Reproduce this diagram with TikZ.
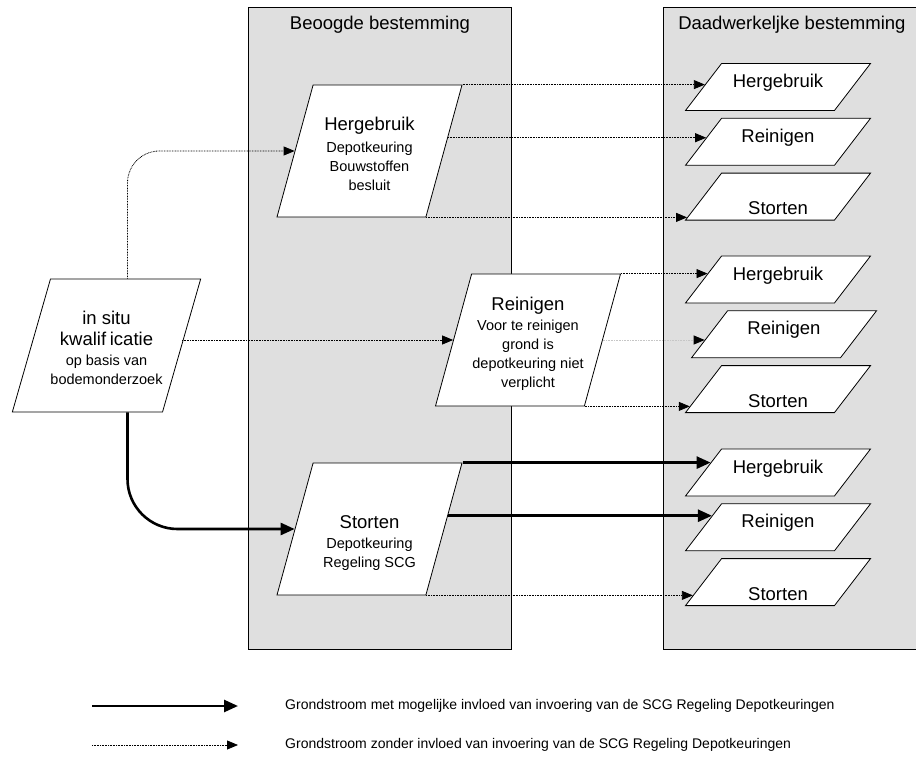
\documentclass[tikz,border=0pt]{standalone}
\usepackage{fontspec}
\setmainfont{Liberation Sans}
\usetikzlibrary{arrows.meta,positioning,calc,shapes.geometric}

\newcommand{\bigfont}{\fontsize{18.5}{22}\selectfont}
\newcommand{\smallfont}{\fontsize{14.5}{19}\selectfont}
\newcommand{\keyfont}{\fontsize{14}{17}\selectfont}

\begin{document}
\begin{tikzpicture}[x=1pt,y=-1pt,
  lane/.style={draw,fill=gray!25,line width=0.8pt,anchor=north west,inner sep=0pt},
  head/.style={font=\bigfont},
  choice/.style={trapezium,trapezium left angle=74.7,trapezium right angle=105.3,trapezium stretches body,draw,fill=white,line width=0.8pt,minimum width=185pt,minimum height=132pt,font=\smallfont,inner xsep=0pt,inner ysep=2pt},
  dest/.style={trapezium,trapezium left angle=52.5,trapezium right angle=127.5,trapezium stretches body,draw,fill=white,line width=0.8pt,minimum width=185pt,minimum height=47pt,font=\bigfont,inner sep=0pt,text height=24pt,text depth=23pt},
  destlow/.style={dest,text height=41.5pt,text depth=5.5pt},
  keytext/.style={font=\keyfont,inner sep=0pt,anchor=west},
  heavy/.style={line width=2.6pt,-{Triangle[length=14pt,width=12pt]}},
  light/.style={line width=0.8pt,dash pattern=on 0.8pt off 0.8pt,-{Triangle[length=11pt,width=9pt]}},
  faint/.style={light,gray!45,-{Triangle[length=11pt,width=9pt,color=black]}},
  hit/.style={to path={let \p1=(\tikztostart),\p2=(\tikztotarget.bottom left corner),\p3=(\tikztotarget.top left corner) in -- ({\x2+(\y1-\y2)*(\x3-\x2)/(\y3-\y2)},\y1)}}]
\useasboundingbox (0,0) rectangle (916,762);
% lanes
\node[lane,minimum width=263pt,minimum height=642pt] (plan) at (248,7) {};
\node[lane,minimum width=257pt,minimum height=642pt] (real) at (663,7) {};
\node[head] (planhead) at ([yshift=-18pt]plan.north) {Beoogde bestemming};
\node[head] (realhead) at ([yshift=-18pt]real.north) {Daadwerkeljke bestemming};
% source and intended destination
\node[choice,trapezium left angle=74,trapezium right angle=106,minimum height=133pt,text height=43.6pt,text depth=85.4pt] (insitu) at (106.5,345.5)
  {\begin{tabular}[t]{@{}c@{}}\bigfont in situ\\[2pt]\bigfont kwalif\hspace{.2em}icatie\\[1pt]op basis van\\bodemonderzoek\end{tabular}};
\node[choice,text height=43.6pt,text depth=84.4pt] (planreuse) at (369.5,151)
  {\begin{tabular}[t]{@{}c@{}}\bigfont Hergebruik\\[3pt]Depotkeuring\\Bouwstoffen\\besluit\end{tabular}};
\node[choice,text height=34.6pt,text depth=93.4pt] (planclean) at (528,340)
  {\begin{tabular}[t]{@{}c@{}}\bigfont Reinigen\\[1pt]Voor te reinigen\\grond is\\depotkeuring niet\\verplicht\end{tabular}};
\node[choice,text height=63.6pt,text depth=64.4pt] (plandump) at (369.5,529)
  {\begin{tabular}[t]{@{}c@{}}\bigfont Storten\\[1pt]Depotkeuring\\Regeling SCG\end{tabular}};
% actual destination
\node[dest] (reuse1) at (778,87) {Hergebruik};
\node[dest,below=7pt of reuse1] (clean1) {Reinigen};
\node[destlow,below=7pt of clean1] (dump1) {Storten};
\node[dest] (reuse2) at (778,279.5) {Hergebruik};
\node[dest,below=7pt of reuse2,xshift=6pt] (clean2) {Reinigen};
\node[destlow,below=7pt of clean2,xshift=-6pt] (dump2) {Storten};
\node[dest] (reuse3) at (778,472.5) {Hergebruik};
\node[dest,below=7pt of reuse3] (clean3) {Reinigen};
\node[destlow,below=7pt of clean3] (dump3) {Storten};
% flows
\coordinate (riser) at ([xshift=21pt]insitu.center);
\coordinate (reusemid) at ($(planreuse.bottom right corner)!0.6!(planreuse.top right corner)$);
\coordinate (dumpmid) at ($(plandump.bottom right corner)!0.6!(plandump.top right corner)$);
\draw[light,rounded corners=32pt] (riser |- insitu.top side) |- (planreuse.left side);
\draw[light] (insitu.right side |- planclean.left side) -- (planclean.left side);
\draw[heavy,rounded corners=50pt] (riser |- insitu.bottom side) |- (plandump.left side);
\draw[light] (planreuse.top right corner) to[hit] (reuse1);
\draw[light] (reusemid) to[hit] (clean1);
\draw[light] (planreuse.bottom right corner) to[hit] (dump1);
\draw[light] (planclean.top right corner) to[hit] (reuse2);
\draw[faint] (planclean.right side) to[hit] (clean2);
\draw[light] (planclean.bottom right corner) to[hit] (dump2);
\draw[heavy] (plandump.top right corner) to[hit] (reuse3);
\draw[heavy] (dumpmid) to[hit] (clean3);
\draw[light] (plandump.bottom right corner) to[hit] (dump3);
% legend
\coordinate (keyA) at (92,706);
\coordinate (keyAend) at (238,706);
\coordinate (keyB) at (92,745);
\coordinate (keyBend) at (238,745);
\draw[heavy] (keyA) -- (keyAend);
\draw[light] (keyB) -- (keyBend);
\node[keytext,right=47pt of keyAend] (keyheavy) {Grondstroom met mogelijke invloed van invoering van de SCG Regeling Depotkeuringen};
\node[keytext,right=47pt of keyBend] (keylight) {Grondstroom zonder invloed van invoering van de SCG Regeling Depotkeuringen};
\end{tikzpicture}
\end{document}
